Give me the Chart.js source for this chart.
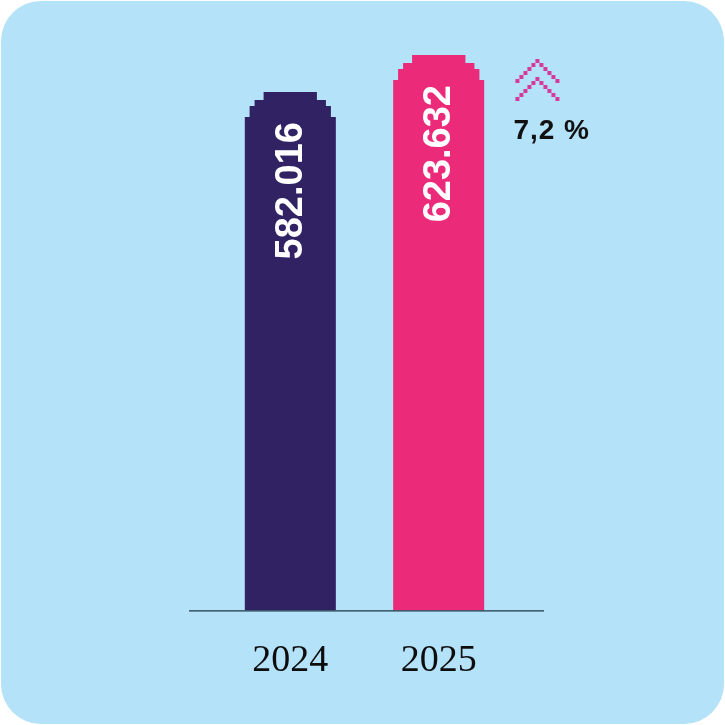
<!DOCTYPE html>
<html>
<head>
<meta charset="utf-8">
<script src="https://cdn.jsdelivr.net/npm/chart.js@4"></script>
<style>
  html, body { margin: 0; padding: 0; background: #fff; }
  #card {
    position: relative;
    width: 723px; height: 723px;
    margin: 1px;
    border-radius: 40px;
    background: #b4e2f8;
  }
  #wrap { position: absolute; left: -1px; top: -1px; width: 725px; height: 725px; }
</style>
</head>
<body>
<div id="card">
  <div id="wrap"><canvas id="growthChart"></canvas></div>
</div>
<script>
const years = ['2024', '2025'];
const values = [582016, 623632];
const barColors = ['#302263', '#ec2a7a'];

// 582016 -> "582.016"
function fmt(v) {
    return String(v).replace(/\B(?=(\d{3})+(?!\d))/g, '.');
}
let growth = ((values[1] / values[0] - 1) * 100).toFixed(1).replace('.', ',') + ' %';

// stepped (pixel) rounding on top of the bars: [offset from top, inset]
const steps = [[0, 19], [8, 10], [14, 5], [25, 0]];

const barTops = {
    id: 'barTops',
    beforeDatasetsDraw(chart) {
        const ctx = chart.ctx;
        const meta = chart.getDatasetMeta(0);
        ctx.save();
        ctx.beginPath();
        meta.data.forEach(el => {
            const {x, y, base, width} = el.getProps(['x', 'y', 'base', 'width'], true);
            const L = x - width / 2, R = x + width / 2, T = y, B = base + 2;
            const n = steps.length;
            ctx.moveTo(L, B);
            for (let i = n - 1; i >= 0; i--) {
                const lower = i == n - 1 ? steps[i][0] : steps[i + 1][0];
                ctx.lineTo(L + steps[i][1], T + lower);
                ctx.lineTo(L + steps[i][1], T + steps[i][0]);
            }
            for (let i = 0; i < n; i++) {
                const lower = i == n - 1 ? steps[i][0] : steps[i + 1][0];
                ctx.lineTo(R - steps[i][1], T + steps[i][0]);
                ctx.lineTo(R - steps[i][1], T + lower);
            }
            ctx.lineTo(R, B);
            ctx.closePath();
        });
        ctx.clip();
    },
    afterDatasetsDraw(chart) {
        const ctx = chart.ctx;
        ctx.restore();
        const meta = chart.getDatasetMeta(0);
        const area = chart.chartArea;

        // baseline
        ctx.save();
        ctx.strokeStyle = '#1d3644';
        ctx.lineWidth = 1.2;
        ctx.beginPath();
        ctx.moveTo(area.left - 27, area.bottom + 0.5);
        ctx.lineTo(area.right + 31, area.bottom + 0.5);
        ctx.stroke();
        ctx.restore();

        // value labels, rotated
        meta.data.forEach((el, i) => {
            ctx.save();
            ctx.translate(el.x, el.y + 30);
            ctx.rotate(-Math.PI / 2);
            ctx.font = 'bold 38px "Liberation Sans", Arial, sans-serif';
            ctx.fillStyle = '#ffffff';
            ctx.textAlign = 'right';
            ctx.textBaseline = 'middle';
            ctx.fillText(fmt(values[i]), 0, 1);
            ctx.restore();
        });

        // growth note next to the last bar
        const last = meta.data[meta.data.length - 1];
        const tx = last.x + last.width / 2 + 29;
        const top = last.y;
        ctx.save();
        ctx.fillStyle = '#d6389b';
        for (let c = 0; c < 2; c++) {
            const ay = top + 6 + c * 18;
            const ax = tx + 24;
            for (let k = 0; k <= 5; k++) {
                ctx.fillRect(ax - k * 4 - 2, ay + k * 4 - 2, 4, 4);
                if (k > 0) ctx.fillRect(ax + k * 4 - 2, ay + k * 4 - 2, 4, 4);
            }
        }
        ctx.fillStyle = '#111111';
        ctx.font = 'bold 28px "Liberation Sans", Arial, sans-serif';
        ctx.letterSpacing = '1px';
        ctx.textAlign = 'left';
        ctx.textBaseline = 'alphabetic';
        ctx.fillText(growth, tx, top + 84);
        ctx.restore();
    }
};

new Chart('growthChart', {
    type: 'bar',
    data: {
        labels: years,
        datasets: [{
            data: values,
            backgroundColor: barColors,
            borderWidth: 0,
            barPercentage: 0.615,
            categoryPercentage: 1
        }]
    },
    options: {
        responsive: true,
        maintainAspectRatio: false,
        animation: false,
        layout: {
            padding: { left: 216, right: 212, top: 55, bottom: 13 }
        },
        plugins: {
            legend: { display: false },
            tooltip: { enabled: false }
        },
        scales: {
            x: {
                grid: { display: false, drawTicks: false },
                border: { display: false },
                ticks: {
                    color: '#0d0d0d',
                    padding: 28,
                    font: { family: '"Liberation Serif", "DejaVu Serif", serif', size: 38 }
                }
            },
            y: {
                display: false,
                min: 0,
                max: 623632
            }
        }
    },
    plugins: [barTops]
});
</script>
</body>
</html>
